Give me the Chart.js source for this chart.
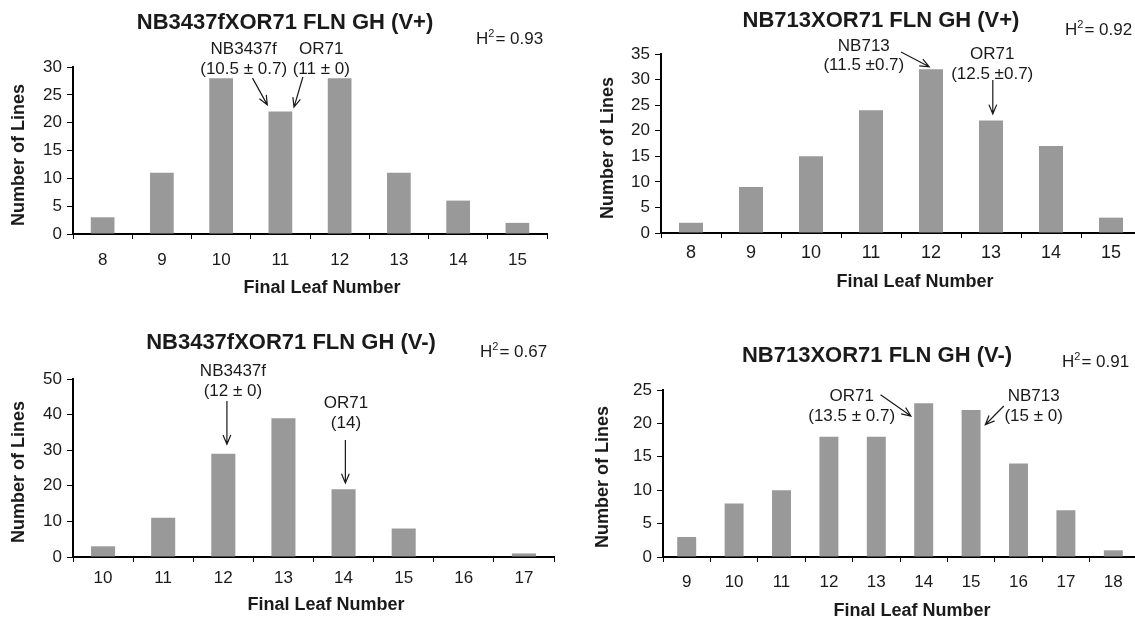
<!DOCTYPE html>
<html><head><meta charset="utf-8">
<script src="https://cdn.jsdelivr.net/npm/chart.js@4.4.1/dist/chart.umd.min.js"></script>
<style>
html,body{margin:0;padding:0;background:#fff;overflow:hidden;}
#wrap{position:relative;width:1135px;height:619px;overflow:hidden;background:#fff;}
canvas{position:absolute;left:0;top:0;}
</style></head><body>
<div id="wrap">
<canvas id="c1" width="1160" height="619"></canvas>
<canvas id="c2" width="1160" height="619"></canvas>
<canvas id="c3" width="1160" height="619"></canvas>
<canvas id="c4" width="1160" height="619"></canvas>
</div>
<script>
const FONT = "'Liberation Sans', Arial, Helvetica, sans-serif";
const INK = '#1a1a1a';
const BAR = '#999999';

// ---- data ----
const p1Labels = ['8','9','10','11','12','13','14','15'];
const p1Values = [3, 11, 28, 22, 28, 11, 6, 2];
const p2Labels = ['8','9','10','11','12','13','14','15'];
const p2Values = [2, 9, 15, 24, 32, 22, 17, 3];
const p3Labels = ['10','11','12','13','14','15','16','17'];
const p3Values = [3, 11, 29, 39, 19, 8, 0, 1];
const p4Labels = ['9','10','11','12','13','14','15','16','17','18'];
const p4Values = [3, 8, 10, 18, 18, 23, 22, 14, 7, 1];

const p1Title = 'NB3437fXOR71 FLN GH (V+)';
const p2Title = 'NB713XOR71 FLN GH (V+)';
const p3Title = 'NB3437fXOR71 FLN GH (V-)';
const p4Title = 'NB713XOR71 FLN GH (V-)';
const p1H2 = '0.93', p2H2 = '0.92', p3H2 = '0.67', p4H2 = '0.91';
const xTitle = 'Final Leaf Number';
const yTitle = 'Number of Lines';

// annotations in data units (x = category index, y = value)
const p1Notes = [
  {lines:['NB3437f','(10.5 \u00b1 0.7)'], x:2.38, y:[33.2, 29.5]},
  {lines:['OR71','(11 \u00b1 0)'], x:3.69, y:[33.2, 29.5]}
];
const p1Arrows = [{from:[2.53, 28.0], to:[2.78, 23.2]}, {from:[3.38, 28.2], to:[3.23, 22.8]}];
const p2Notes = [
  {lines:['NB713','(11.5 \u00b10.7)'], x:2.88, y:[36.6, 32.7]},
  {lines:['OR71','(12.5 \u00b10.7)'], x:5.02, y:[34.9, 31.0]}
];
const p2Arrows = [{from:[3.5, 35.4], to:[3.97, 32.5]}, {from:[5.03, 29.9], to:[5.03, 23.3]}];
const p3Notes = [
  {lines:['NB3437f','(12 \u00b1 0)'], x:2.16, y:[52.2, 46.6]},
  {lines:['OR71','(14)'], x:4.04, y:[43.3, 37.6]}
];
const p3Arrows = [{from:[2.06, 43.8], to:[2.06, 31.7]}, {from:[4.03, 32.9], to:[4.03, 20.8]}];
const p4Notes = [
  {lines:['OR71','(13.5 \u00b1 0.7)'], x:3.48, y:[24.0, 21.1]},
  {lines:['NB713','(15 \u00b1 0)'], x:7.32, y:[24.0, 21.1]}
];
const p4Arrows = [{from:[4.09, 24.3], to:[4.73, 21.1]}, {from:[6.69, 22.6], to:[6.30, 19.8]}];

// ---- drawing ----
const decor = {
  id:'decor',
  afterDraw(chart, args, o) {
    const ctx = chart.ctx, xs = chart.scales.x, ys = chart.scales.y;
    ctx.save();
    ctx.fillStyle = INK; ctx.strokeStyle = INK; ctx.textBaseline = 'middle';
    ctx.textAlign = 'center';
    ctx.font = `bold 22px ${FONT}`;
    ctx.fillText(o.title, o.titleX, o.titleY);
    ctx.font = `bold 18px ${FONT}`;
    ctx.fillText(o.xTitle, o.xTitleX, o.xTitleY);
    ctx.save(); ctx.translate(o.yTitleX, o.yTitleY); ctx.rotate(-Math.PI/2);
    ctx.fillText(o.yTitle, 0, 0); ctx.restore();
    // H^2
    ctx.textAlign = 'left';
    let x = o.h2X;
    ctx.font = `17px ${FONT}`; ctx.fillText('H', x, o.h2Y); x += ctx.measureText('H').width;
    ctx.font = `11px ${FONT}`; ctx.fillText('2', x, o.h2Y - 5); x += ctx.measureText('2').width + 1;
    ctx.font = `17px ${FONT}`; ctx.fillText('= ' + o.h2, x, o.h2Y);
    // notes
    ctx.textAlign = 'center';
    for (const n of o.notes) {
      n.lines.forEach((s, i) => ctx.fillText(s, xs.getPixelForValue(n.x), ys.getPixelForValue(n.y[i])));
    }
    ctx.lineWidth = 1.2;
    for (const a of o.arrows) {
      const x1 = xs.getPixelForValue(a.from[0]), y1 = ys.getPixelForValue(a.from[1]);
      const x2 = xs.getPixelForValue(a.to[0]), y2 = ys.getPixelForValue(a.to[1]);
      const ang = Math.atan2(y2 - y1, x2 - x1), L = 10, sp = 0.4;
      ctx.beginPath();
      ctx.moveTo(x1, y1); ctx.lineTo(x2, y2);
      ctx.moveTo(x2 - L*Math.cos(ang - sp), y2 - L*Math.sin(ang - sp)); ctx.lineTo(x2, y2);
      ctx.lineTo(x2 - L*Math.cos(ang + sp), y2 - L*Math.sin(ang + sp));
      ctx.stroke();
    }
    ctx.restore();
  }
};

const CW = 1160, CH = 619, YW = 50, XH = 40;
function makeChart(c) {
  new Chart(document.getElementById(c.id), {
    type:'bar',
    data:{labels:c.labels, datasets:[{data:c.values, backgroundColor:BAR, borderWidth:0, barPercentage:0.4, categoryPercentage:1}]},
    options:{
      responsive:false, animation:false, devicePixelRatio:1,
      layout:{padding:{left:c.l - YW, top:c.t, right:CW - c.r, bottom:CH - c.b - XH}},
      plugins:{legend:{display:false}, tooltip:{enabled:false}, title:{display:false}, decor:c.decor},
      scales:{
        x:{type:'category', offset:true,
           grid:{offset:true, drawOnChartArea:false, drawTicks:true, tickLength:5, color:'#000', lineWidth:1},
           border:{display:true, color:'#000', width:2},
           ticks:{color:INK, font:{family:FONT, size:c.xFont}, padding:c.xPad, maxRotation:0, autoSkip:false},
           afterFit:s => { s.height = XH; }},
        y:{min:0, max:c.yMax,
           ticks:{stepSize:c.yStep, color:INK, font:{family:FONT, size:17}, padding:5},
           grid:{drawOnChartArea:false, drawTicks:true, tickLength:6, color:'#000', lineWidth:1},
           border:{display:true, color:'#000', width:2},
           afterFit:s => { s.width = YW; }}
      }
    },
    plugins:[decor]
  });
}

makeChart({id:'c1', labels:p1Labels, values:p1Values, l:73, r:547, t:67, b:234, yMax:30, yStep:5, xFont:17, xPad:11,
  decor:{title:p1Title, titleX:285, titleY:23, h2:p1H2, h2X:476, h2Y:39, xTitle, xTitleX:322, xTitleY:288, yTitle, yTitleX:19, yTitleY:155, notes:p1Notes, arrows:p1Arrows}});
makeChart({id:'c2', labels:p2Labels, values:p2Values, l:661, r:1141, t:54, b:233, yMax:35, yStep:5, xFont:18, xPad:4,
  decor:{title:p2Title, titleX:881, titleY:21, h2:p2H2, h2X:1065, h2Y:30, xTitle, xTitleX:915, xTitleY:282, yTitle, yTitleX:608, yTitleY:148, notes:p2Notes, arrows:p2Arrows}});
makeChart({id:'c3', labels:p3Labels, values:p3Values, l:73, r:554, t:379, b:557, yMax:50, yStep:10, xFont:17, xPad:6,
  decor:{title:p3Title, titleX:291, titleY:343, h2:p3H2, h2X:480, h2Y:352, xTitle, xTitleX:326, xTitleY:605, yTitle, yTitleX:19, yTitleY:472, notes:p3Notes, arrows:p3Arrows}});
makeChart({id:'c4', labels:p4Labels, values:p4Values, l:663, r:1137, t:390, b:557, yMax:25, yStep:5, xFont:17, xPad:10,
  decor:{title:p4Title, titleX:877, titleY:356, h2:p4H2, h2X:1062, h2Y:362, xTitle, xTitleX:912, xTitleY:611, yTitle, yTitleX:603, yTitleY:477, notes:p4Notes, arrows:p4Arrows}});
</script>
</body></html>
